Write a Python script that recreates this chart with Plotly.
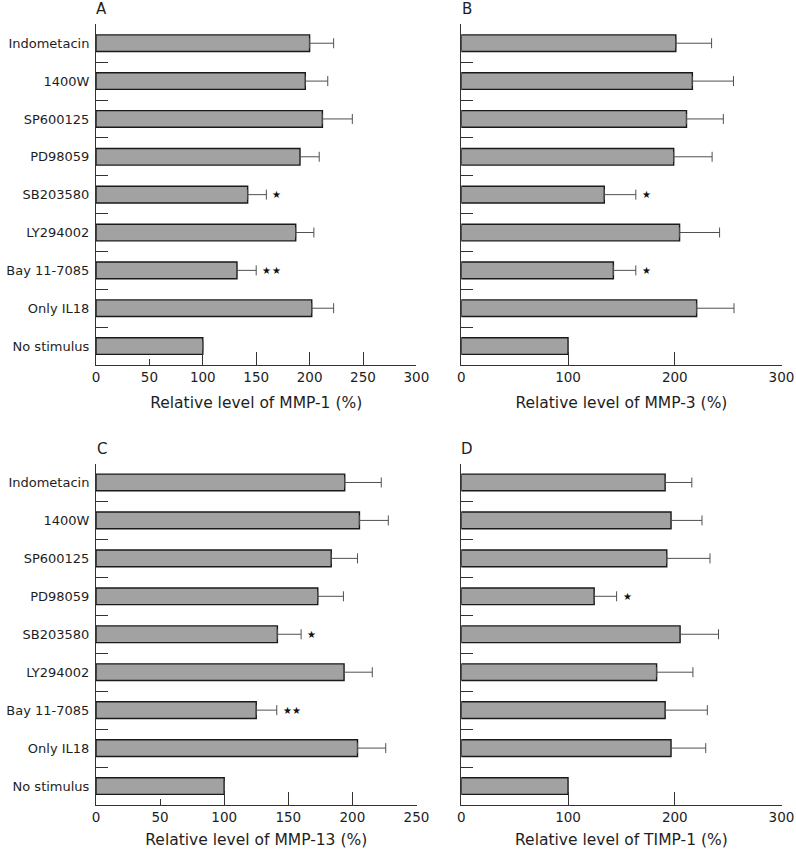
import plotly.graph_objects as go

categories = ["Indometacin", "1400W", "SP600125", "PD98059", "SB203580",
              "LY294002", "Bay 11-7085", "Only IL18", "No stimulus"]

mmp1_vals = [200, 196, 212, 191, 142, 187, 132, 202, 100]
mmp1_err = [22.5, 21, 28, 18, 17.5, 17, 18, 20.5, None]
mmp1_sig = [0, 0, 0, 0, 1, 0, 2, 0, 0]

mmp3_vals = [201, 216.5, 211, 199, 134, 204.5, 142.5, 220.5, 100]
mmp3_err = [33.5, 38.5, 34.5, 36, 29.5, 37.5, 21, 35, None]
mmp3_sig = [0, 0, 0, 0, 1, 0, 1, 0, 0]

mmp13_vals = [194, 205.5, 183.5, 173, 141.5, 193.5, 125, 204, 100]
mmp13_err = [28.5, 22.5, 20.5, 20, 18.5, 22, 16, 22, None]
mmp13_sig = [0, 0, 0, 0, 1, 0, 2, 0, 0]

timp1_vals = [191, 196.5, 192.5, 124.5, 205, 183, 191, 196.5, 100]
timp1_err = [25, 29, 40.5, 21, 36, 34, 39.5, 32.5, None]
timp1_sig = [0, 0, 0, 1, 0, 0, 0, 0, 0]

panels = [
    dict(letter="A", vals=mmp1_vals, err=mmp1_err, sig=mmp1_sig,
         title="Relative level of MMP-1 (%)", xmax=300,
         ticks=[0, 50, 100, 150, 200, 250, 300], longticks=[100, 150, 200, 250, 300],
         xpx=(96, 416.4), ypx=(24.3, 365), standoff=12),
    dict(letter="B", vals=mmp3_vals, err=mmp3_err, sig=mmp3_sig,
         title="Relative level of MMP-3 (%)", xmax=300,
         ticks=[0, 100, 200, 300], longticks=None,
         xpx=(461.3, 781.5), ypx=(24.3, 365), standoff=12),
    dict(letter="C", vals=mmp13_vals, err=mmp13_err, sig=mmp13_sig,
         title="Relative level of MMP-13 (%)", xmax=250,
         ticks=[0, 50, 100, 150, 200, 250], longticks=[100, 150, 200, 250],
         xpx=(96, 416.5), ypx=(463.5, 805), standoff=9),
    dict(letter="D", vals=timp1_vals, err=timp1_err, sig=timp1_sig,
         title="Relative level of TIMP-1 (%)", xmax=300,
         ticks=[0, 100, 200, 300], longticks=None,
         xpx=(461.3, 781.5), ypx=(463.5, 805), standoff=9),
]

W, H = 796, 853
FONT = "DejaVu Sans"
AXC = "#333333"
TXT = "#1e1e1e"

fig = go.Figure()
layout = {}
annotations = []

for i, p in enumerate(panels):
    n = i + 1
    xa = "x" if n == 1 else f"x{n}"
    ya = "y" if n == 1 else f"y{n}"
    fig.add_trace(go.Bar(
        x=p["vals"], y=categories, orientation="h",
        xaxis=xa, yaxis=ya, width=0.44,
        marker=dict(color="#a2a2a2", line=dict(color="#1a1a1a", width=1.4)),
        error_x=dict(type="data", symmetric=False,
                     array=[e if e is not None else 0 for e in p["err"]],
                     arrayminus=[0] * len(p["err"]),
                     color="#505050", thickness=1, width=5, visible=True),
        showlegend=False, hoverinfo="x+y",
    ))
    xdom = [p["xpx"][0] / W, p["xpx"][1] / W]
    ydom = [1 - p["ypx"][1] / H, 1 - p["ypx"][0] / H]
    long = p["longticks"]
    xaxis = dict(
        domain=xdom, range=[0, p["xmax"]], anchor=ya, automargin=False,
        showline=True, linecolor=AXC, linewidth=1,
        ticks="inside", ticklen=(6 if long else 13), tickcolor=AXC, tickwidth=1,
        tickmode="array", tickvals=p["ticks"],
        showgrid=False, zeroline=False,
        tickfont=dict(family=FONT, size=13.5, color=TXT),
        title=dict(text=p["title"], font=dict(family=FONT, size=15.5, color=TXT),
                   standoff=p["standoff"]),
    )
    if long:
        xaxis["minor"] = dict(tickmode="array", tickvals=long, ticks="inside",
                              ticklen=13, tickcolor=AXC, tickwidth=1, showgrid=False)
    yaxis = dict(
        domain=ydom, anchor=xa, type="category", automargin=False,
        categoryorder="array", categoryarray=categories,
        range=[len(categories) - 0.5, -0.5],
        showline=True, linecolor=AXC, linewidth=1,
        ticks="inside", ticklen=12, tickcolor=AXC, tickwidth=1,
        tickson="boundaries", showgrid=False, zeroline=False,
        showticklabels=(n in (1, 3)),
        tickfont=dict(family=FONT, size=13, color=TXT),
        ticklabelstandoff=3,
    )
    layout["xaxis" if n == 1 else f"xaxis{n}"] = xaxis
    layout["yaxis" if n == 1 else f"yaxis{n}"] = yaxis

    # panel letter
    annotations.append(dict(
        text=p["letter"], xref="paper", yref="paper",
        x=(p["xpx"][0] + 5.5) / W, y=1 - (p["ypx"][0] - 15) / H,
        xanchor="center", yanchor="middle", showarrow=False,
        font=dict(family=FONT, size=15, color=TXT),
    ))
    # significance stars
    for cat, v, e, s in zip(categories, p["vals"], p["err"], p["sig"]):
        for k in range(s):
            annotations.append(dict(
                text="★", xref=xa, yref=ya, x=v + (e or 0), y=cat,
                xanchor="center", yanchor="middle", showarrow=False,
                xshift=10.5 + 9.3 * k, yshift=0,
                font=dict(family="DejaVu Sans", size=10, color="#111"),
            ))

fig.update_layout(
    width=W, height=H,
    margin=dict(l=0, r=0, t=0, b=0),
    paper_bgcolor="white", plot_bgcolor="white",
    annotations=annotations,
    bargap=0.5,
    **layout,
)

fig.write_html("out.html",
               config={"displayModeBar": False},
               post_script="document.body.style.margin='0';document.body.style.padding='0';")
